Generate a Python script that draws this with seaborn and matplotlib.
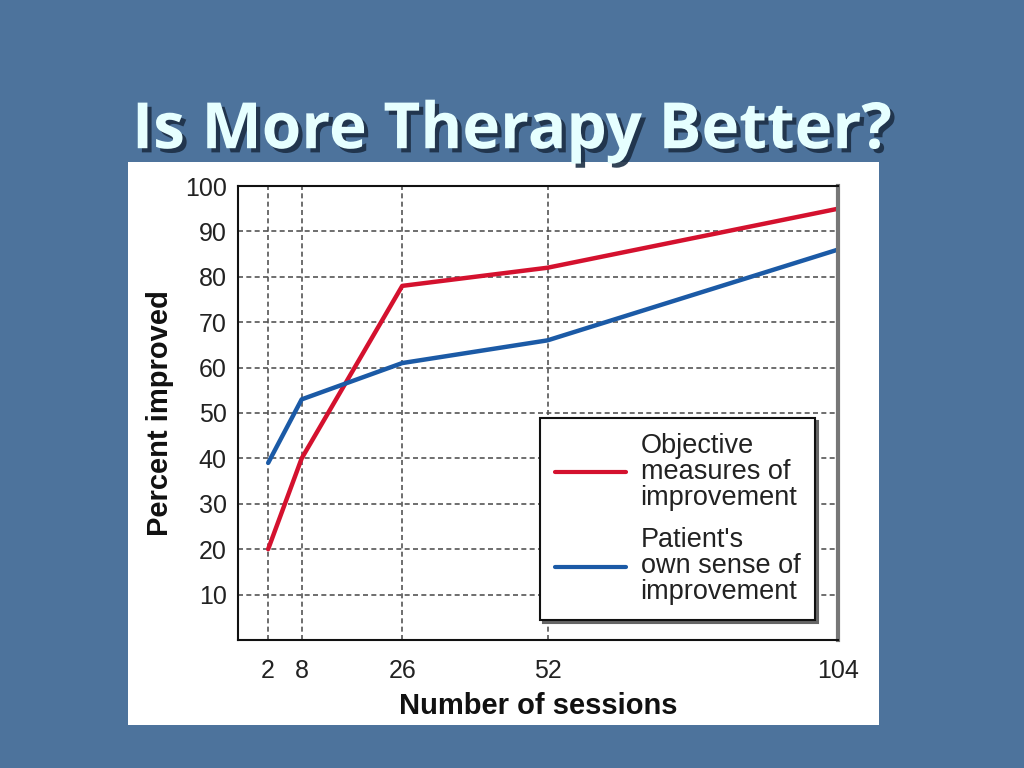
import matplotlib
matplotlib.use("Agg")
import matplotlib.pyplot as plt
import matplotlib.patheffects as pe
from matplotlib.lines import Line2D
from matplotlib.patches import Rectangle
import seaborn as sns
import pandas as pd

sessions = [2, 8, 26, 52, 104]
objective = [20, 40, 78, 82, 95]
patient = [39, 53, 61, 66, 86]
series_names = ["Objective\nmeasures of\nimprovement",
                "Patient's\nown sense of\nimprovement"]
y_ticks = [10, 20, 30, 40, 50, 60, 70, 80, 90, 100]

df = pd.DataFrame({
    "sessions": sessions * 2,
    "percent": objective + patient,
    "series": [series_names[0]] * len(sessions) + [series_names[1]] * len(sessions),
})

sns.set_theme(style="white")
plt.rcParams["font.family"] = ["Liberation Sans", "DejaVu Sans"]

fig = plt.figure(figsize=(10.24, 7.68), dpi=100)
fig.patch.set_facecolor("#4d739c")

# white card behind the chart
card = Rectangle((0.125, 0.056), 0.733, 0.733, transform=fig.transFigure,
                 facecolor="white", edgecolor="none", zorder=-5)
fig.patches.append(card)

fig.text(0.5, 0.807, "Is More Therapy Better?", ha="center", va="baseline",
         fontsize=46, fontweight="bold", color="#e6ffff", family=["Open Sans", "DejaVu Sans"],
         path_effects=[pe.withSimplePatchShadow(offset=(3, -3), shadow_rgbFace="#1d2f45", alpha=0.9)])

ax = fig.add_axes([0.2324, 0.1667, 0.586, 0.5911])
ax.set_facecolor("white")
palette = {series_names[0]: "#d4112e", series_names[1]: "#1b5aa6"}
sns.lineplot(data=df, x="sessions", y="percent", hue="series", palette=palette,
             linewidth=3.2, ax=ax, legend=False)

ax.set_xlim(-3.4, 104)
ax.set_ylim(0, 100)
ax.set_xticks(sessions)
ax.set_yticks(y_ticks)
ax.tick_params(length=0, labelsize=18, colors="#222222")
ax.tick_params(axis="x", pad=14)
ax.tick_params(axis="y", pad=8)
for v in sessions[:-1]:
    ax.axvline(v, color="#555555", linestyle=(0, (3, 2)), linewidth=1.2, zorder=0)
for v in y_ticks[:-1]:
    ax.axhline(v, color="#555555", linestyle=(0, (3, 2)), linewidth=1.2, zorder=0)
for side in ["left", "top", "bottom"]:
    ax.spines[side].set_color("#111111")
    ax.spines[side].set_linewidth(1.5)
ax.spines["right"].set_color("#777777")
ax.spines["right"].set_linewidth(3)

ax.set_xlabel("Number of sessions", fontsize=21, fontweight="bold", color="#111111", labelpad=6)
ax.set_ylabel("Percent improved", fontsize=21, fontweight="bold", color="#111111", labelpad=8)

handles = [Line2D([0], [0], color=palette[n], linewidth=3) for n in series_names]
leg = ax.legend(handles, series_names, loc="lower right", bbox_to_anchor=(0.962, 0.044),
                fontsize=19.5, frameon=True, fancybox=False, shadow={"color": "#666666", "alpha": 1},
                handlelength=2.6, labelspacing=0.6, borderpad=0.55, handletextpad=0.55,
                borderaxespad=0)
leg.get_frame().set_edgecolor("#111111")
leg.get_frame().set_linewidth(1.5)
for t in leg.get_texts():
    t.set_color("#222222")
    t.set_linespacing(1.0)

fig.savefig("out.png", dpi=100, facecolor=fig.get_facecolor())
